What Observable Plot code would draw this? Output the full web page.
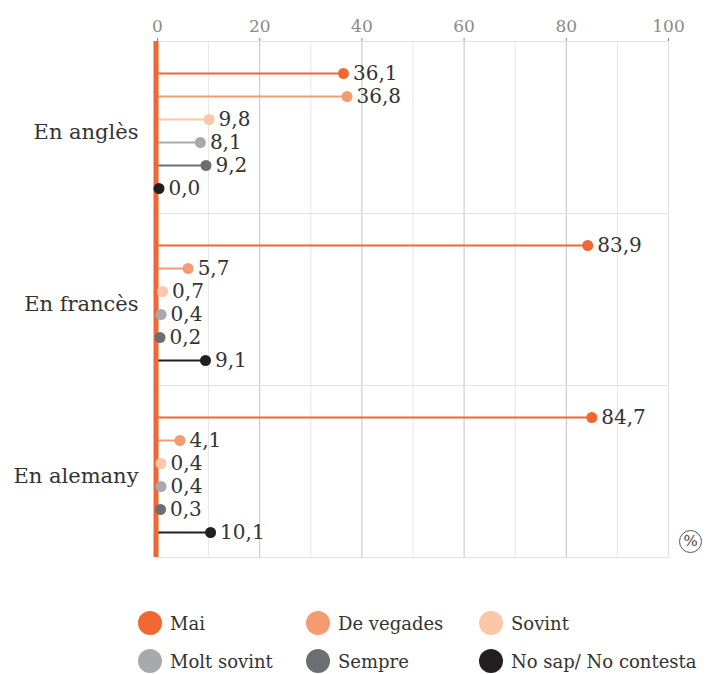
<!DOCTYPE html>
<html>
<head>
<meta charset="utf-8">
<script src="https://cdn.jsdelivr.net/npm/d3@7"></script>
<script src="https://cdn.jsdelivr.net/npm/@observablehq/plot@0.6"></script>
<style>
  body { margin: 0; background: #fff; font-family: "DejaVu Serif", serif; }
  #legend { display: grid; grid-template-columns: 168px 173px auto; margin-left: 138px; padding-top: 9px; }
  .item { display: flex; align-items: center; height: 38px; font-size: 18px; color: #333; white-space: nowrap; }
  .sw { width: 24px; height: 24px; border-radius: 50%; margin-right: 8px; flex: none; }
</style>
</head>
<body>
<div id="chart"></div>
<div id="legend"></div>
<script>
const groups = ["En anglès", "En francès", "En alemany"];
const series = ["Mai", "De vegades", "Sovint", "Molt sovint", "Sempre", "No sap/ No contesta"];
const colors = ["#f26632", "#f59b71", "#fcc6a8", "#a8a9ac", "#6d6e71", "#231f20"];
const valuesAngles = [36.1, 36.8, 9.8, 8.1, 9.2, 0.0];
const valuesFrances = [83.9, 5.7, 0.7, 0.4, 0.2, 9.1];
const valuesAlemany = [84.7, 4.1, 0.4, 0.4, 0.3, 10.1];
const majorTicks = [0, 20, 40, 60, 80, 100];
const minorTicks = [10, 30, 50, 70, 90];

const allValues = [valuesAngles, valuesFrances, valuesAlemany];
const data = [];
groups.forEach((g, gi) => series.forEach((s, si) => data.push({group: g, series: s, value: allValues[gi][si]})));
const fmt = v => v.toFixed(1).replace(".", ",");

const chart = Plot.plot({
  width: 707,
  height: 595,
  marginTop: 41,
  marginBottom: 38,
  marginLeft: 157,
  marginRight: 39,
  style: {fontFamily: "DejaVu Serif", fontSize: "17px", color: "#8a8a8a", background: "#fff"},
  x: {domain: [0, 100], axis: "top", ticks: majorTicks, tickSize: 4, tickPadding: 6, label: null},
  y: {type: "point", domain: series, axis: null, padding: 0, insetTop: 30, insetBottom: 23},
  fy: {domain: groups, padding: 0, axis: null},
  color: {domain: series, range: colors},
  marks: [
    Plot.ruleX(minorTicks, {stroke: "#e6e6e6", strokeWidth: 1}),
    Plot.ruleX(majorTicks, {stroke: "#c4c4c4", strokeWidth: 1}),
    Plot.frame({stroke: "#e2e2e2"}),
    Plot.ruleY(data, {y: "series", fy: "group", x1: 0, x2: "value", stroke: "series", strokeWidth: 2}),
    Plot.ruleX([0], {stroke: colors[0], strokeWidth: 5, dx: -1.5}),
    Plot.dot(data, {y: "series", fy: "group", x: "value", fill: "series", r: 5.5, dx: 1.5}),
    Plot.text(data, {y: "series", fy: "group", x: "value", text: d => fmt(d.value), dx: 11, textAnchor: "start", fontSize: 20, fill: "#333"}),
    Plot.text(groups, {fy: d => d, text: d => d, frameAnchor: "left", dx: -19, dy: 5, textAnchor: "end", fontSize: 21, fill: "#333"}),
    Plot.dot([groups[2]], {fy: d => d, frameAnchor: "bottom-right", dx: 22, dy: -16, r: 11, stroke: "#555", fill: "none", strokeWidth: 1}),
    Plot.text([groups[2]], {fy: d => d, text: () => "%", frameAnchor: "bottom-right", textAnchor: "middle", lineAnchor: "middle", dx: 22, dy: -16, fontSize: 15, fill: "#444"})
  ]
});
document.getElementById("chart").appendChild(chart);

const legend = document.getElementById("legend");
series.forEach((s, i) => {
  const item = document.createElement("div");
  item.className = "item";
  const sw = document.createElement("span");
  sw.className = "sw";
  sw.style.background = colors[i];
  const t = document.createElement("span");
  t.textContent = s;
  item.appendChild(sw);
  item.appendChild(t);
  legend.appendChild(item);
});
</script>
</body>
</html>
